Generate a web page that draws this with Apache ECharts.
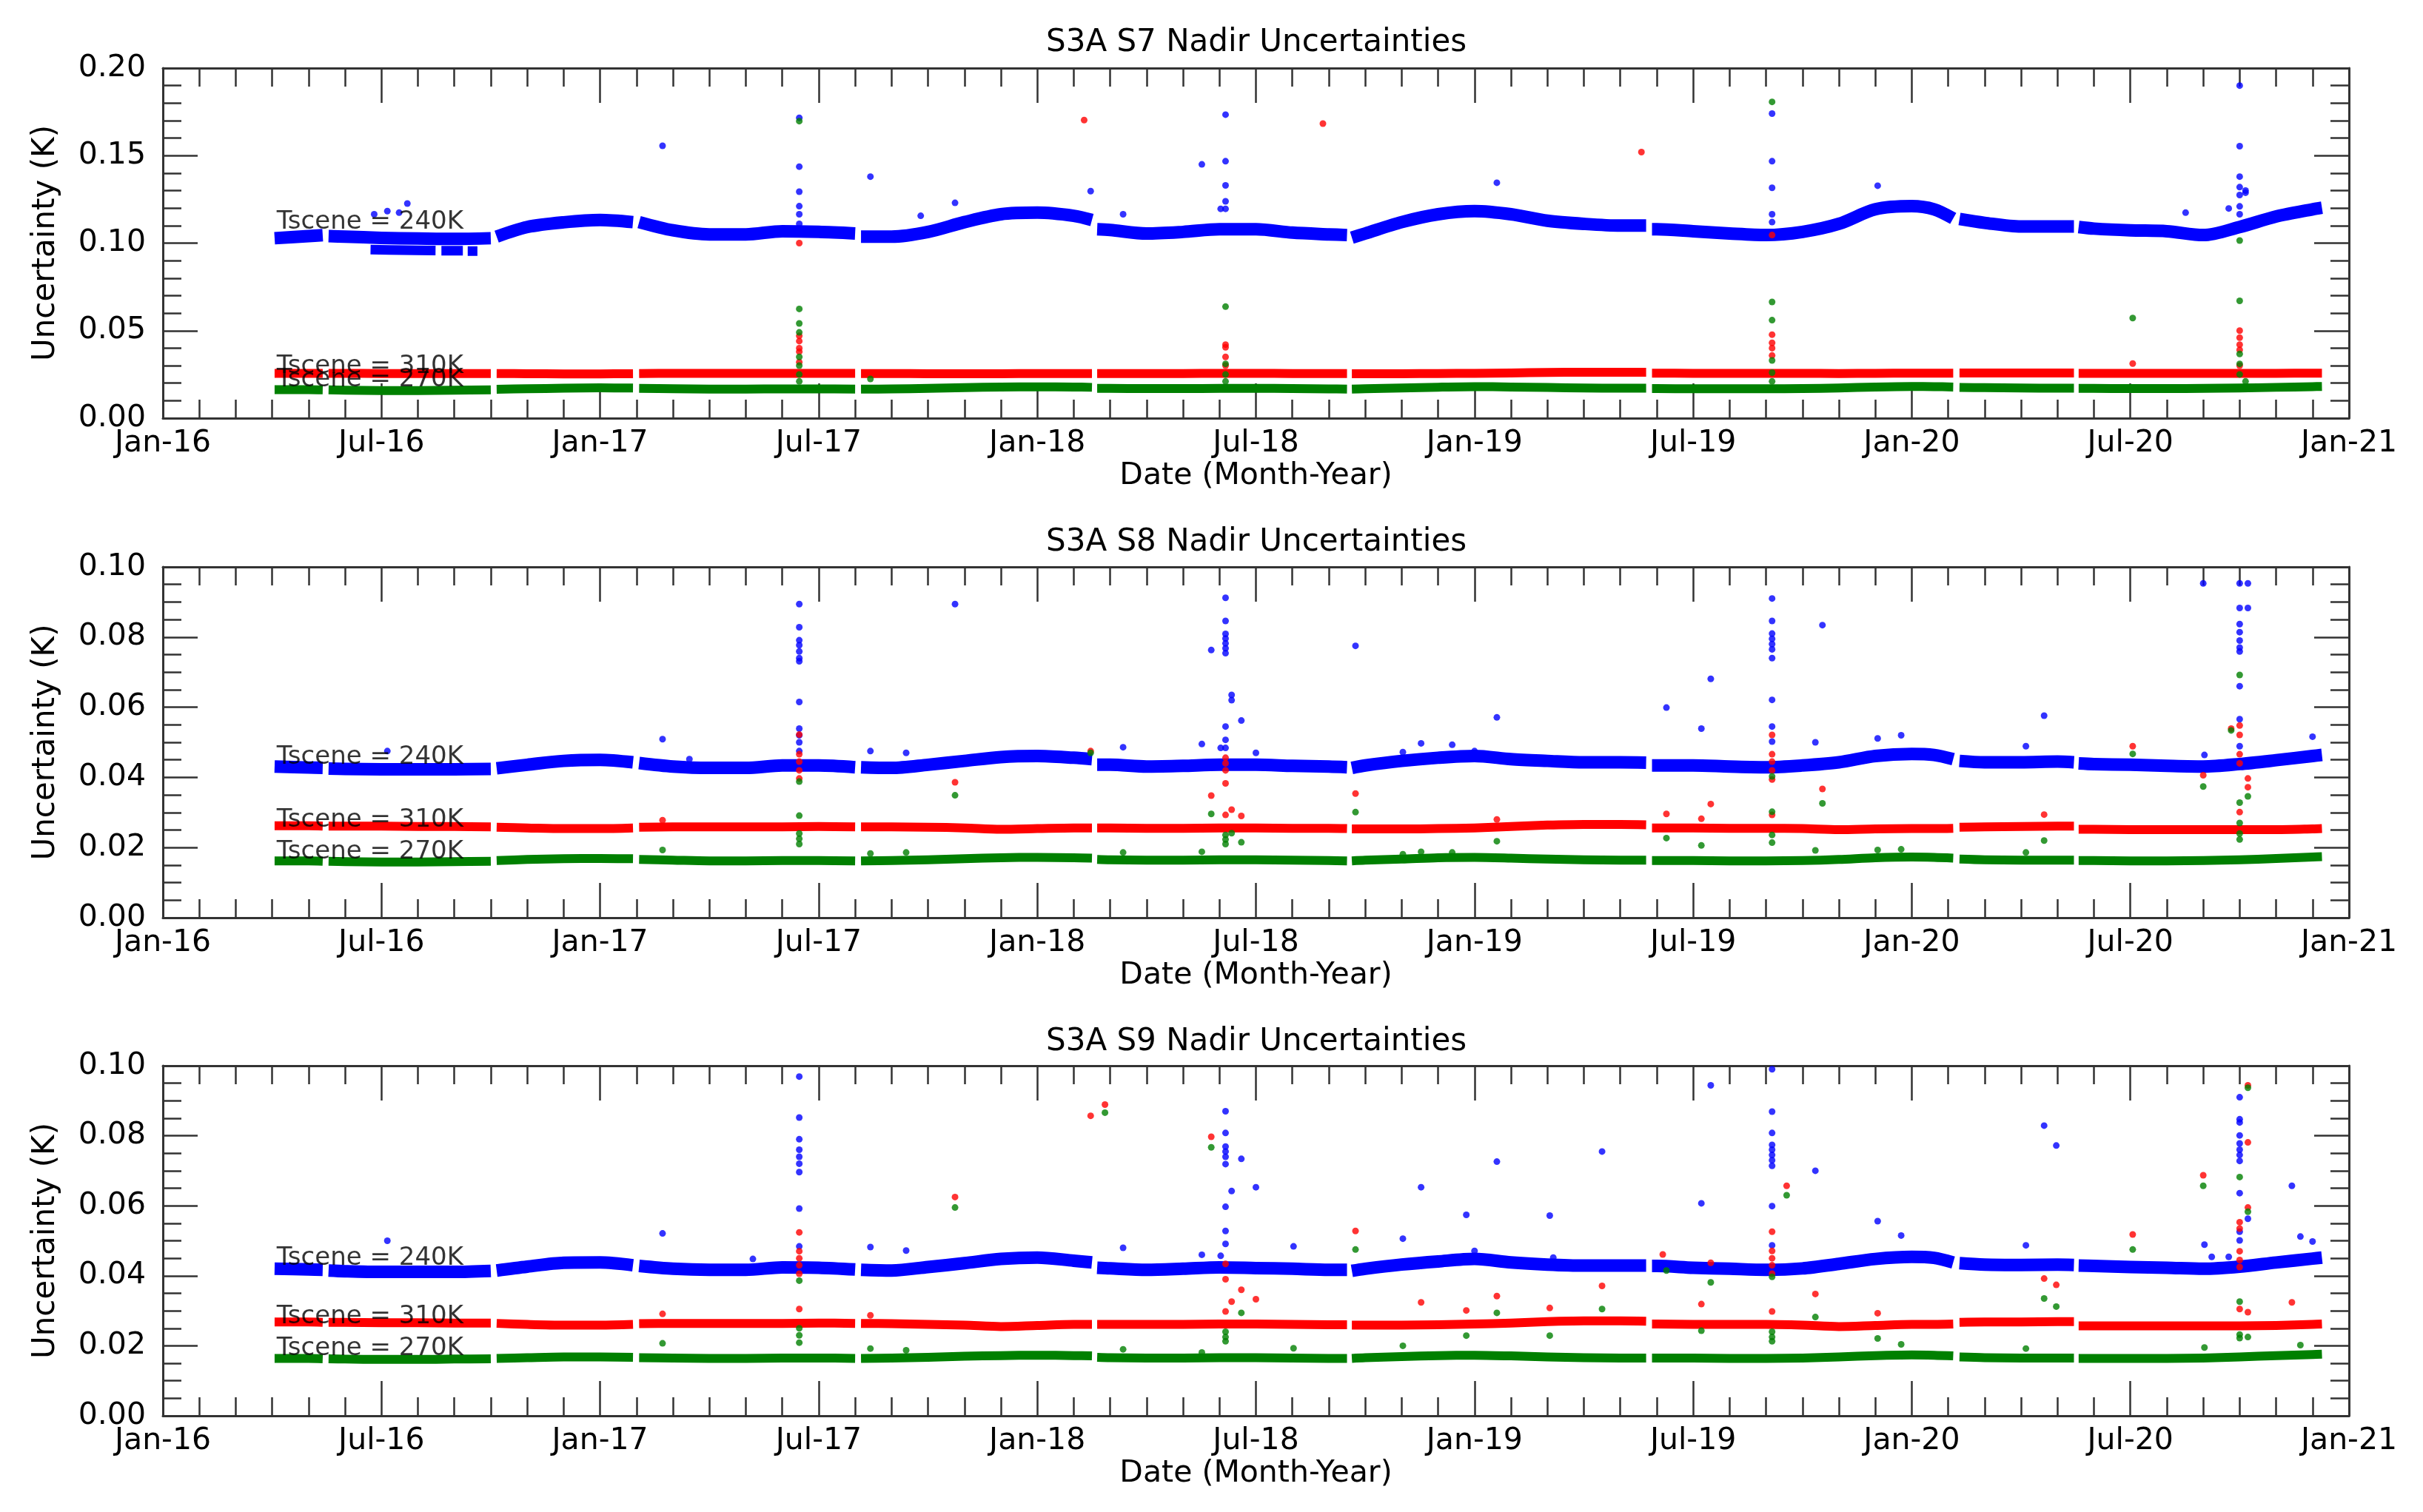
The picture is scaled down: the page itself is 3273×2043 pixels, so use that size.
<!DOCTYPE html>
<html>
<head>
<meta charset="utf-8">
<script src="https://cdn.jsdelivr.net/npm/echarts@6/dist/echarts.min.js"></script>
<style>
html,body{margin:0;padding:0;background:#fff;}
#chart{width:3273px;height:2043px;}
</style>
</head>
<body>
<div id="chart"></div>
<script>
// ---------------- DATA ----------------
const xTickLabels = ['Jan-16','Jul-16','Jan-17','Jul-17','Jan-18','Jul-18','Jan-19','Jul-19','Jan-20','Jul-20','Jan-21'];
const panelTitles = ['S3A S7 Nadir Uncertainties','S3A S8 Nadir Uncertainties','S3A S9 Nadir Uncertainties'];
const seriesLabels = ['Tscene = 240K','Tscene = 310K','Tscene = 270K'];
const labelDate = '2016-04-05';

// daily-band sample dates, one sub-array per continuous data segment
const bandDates = [
 ['2016-04-03','2016-05-01','2016-05-13'],
 ['2016-05-18','2016-06-01','2016-07-01','2016-08-01','2016-09-01','2016-10-01'],
 ['2016-10-06','2016-11-01','2016-12-01','2017-01-01','2017-01-29'],
 ['2017-02-03','2017-03-01','2017-04-01','2017-05-01','2017-06-01','2017-07-01','2017-08-01'],
 ['2017-08-06','2017-09-01','2017-10-01','2017-11-01','2017-12-01','2018-01-01','2018-02-01','2018-02-15'],
 ['2018-02-19','2018-03-01','2018-04-01','2018-05-01','2018-06-01','2018-07-01','2018-08-01','2018-09-01','2018-09-16'],
 ['2018-09-20','2018-10-01','2018-11-01','2018-12-01','2019-01-01','2019-02-01','2019-03-01','2019-04-01','2019-05-01','2019-05-23'],
 ['2019-05-28','2019-06-01','2019-07-01','2019-08-01','2019-09-01','2019-10-01','2019-11-01','2019-12-01','2020-01-01','2020-01-20','2020-02-05'],
 ['2020-02-10','2020-03-01','2020-04-01','2020-05-01','2020-05-15'],
 ['2020-05-19','2020-06-01','2020-07-01','2020-08-01','2020-09-01','2020-10-01','2020-11-01','2020-12-01','2020-12-09']
];

// ---- S7 ----
const s7Blue = [
 [0.1028,0.1040,0.1045],
 [0.1040,0.1037,0.1030,0.1026,0.1024,0.1028],
 [0.1037,0.1092,0.1119,0.1132,0.1120],
 [0.1120,0.1073,0.1050,0.1050,0.1068,0.1064,0.1055],
 [0.1037,0.1037,0.1064,0.1120,0.1165,0.1174,0.1156,0.1132],
 [0.1079,0.1075,0.1055,0.1064,0.1079,0.1079,0.1060,0.1050,0.1046],
 [0.1031,0.1055,0.1120,0.1165,0.1183,0.1165,0.1128,0.1110,0.1100,0.1100],
 [0.1079,0.1079,0.1068,0.1055,0.1046,0.1064,0.1110,0.1193,0.1211,0.1193,0.1141],
 [0.1138,0.1116,0.1095,0.1095,0.1095],
 [0.1092,0.1083,0.1073,0.1068,0.1046,0.1092,0.1152,0.1193,0.1202]
];
const s7BlueLowDates = [['2016-06-22','2016-07-20','2016-08-16'],['2016-08-21','2016-09-08'],['2016-09-12','2016-09-20']];
const s7BlueLow = [[0.0963,0.0960,0.0958],[0.0957,0.0957],[0.0955,0.0955]];
const s7Red = [
 [0.0256,0.0256,0.0256],
 [0.0256,0.0256,0.0255,0.0255,0.0255,0.0255],
 [0.0255,0.0254,0.0253,0.0253,0.0254],
 [0.0255,0.0256,0.0256,0.0256,0.0256,0.0256,0.0256],
 [0.0255,0.0255,0.0254,0.0254,0.0254,0.0255,0.0255,0.0255],
 [0.0255,0.0255,0.0255,0.0255,0.0256,0.0256,0.0255,0.0255,0.0255],
 [0.0254,0.0254,0.0254,0.0255,0.0256,0.0258,0.0261,0.0262,0.0262,0.0262],
 [0.0257,0.0257,0.0256,0.0256,0.0256,0.0256,0.0255,0.0256,0.0257,0.0257,0.0257],
 [0.0258,0.0258,0.0258,0.0258,0.0258],
 [0.0256,0.0256,0.0256,0.0256,0.0256,0.0256,0.0256,0.0257,0.0257]
];
const s7Green = [
 [0.0163,0.0163,0.0162],
 [0.0162,0.0160,0.0158,0.0158,0.0160,0.0162],
 [0.0165,0.0168,0.0171,0.0173,0.0172],
 [0.0170,0.0168,0.0166,0.0166,0.0167,0.0167,0.0166],
 [0.0166,0.0167,0.0170,0.0174,0.0178,0.0179,0.0178,0.0176],
 [0.0170,0.0170,0.0169,0.0169,0.0170,0.0170,0.0169,0.0167,0.0166],
 [0.0166,0.0168,0.0172,0.0177,0.0180,0.0178,0.0175,0.0172,0.0171,0.0171],
 [0.0169,0.0169,0.0168,0.0168,0.0168,0.0169,0.0172,0.0178,0.0181,0.0180,0.0178],
 [0.0176,0.0174,0.0172,0.0171,0.0171],
 [0.0170,0.0170,0.0169,0.0169,0.0170,0.0172,0.0176,0.0180,0.0181]
];
const s7BlueOut = [
 ['2016-06-25',0.1165],['2016-07-06',0.1183],['2016-07-16',0.1174],['2016-07-23',0.1226],
 ['2017-02-21',0.1556],
 ['2017-06-15',0.1716],['2017-06-15',0.1437],['2017-06-15',0.1294],['2017-06-15',0.1211],['2017-06-15',0.1165],['2017-06-15',0.1110],
 ['2017-08-14',0.1380],['2017-09-25',0.1156],['2017-10-24',0.1230],
 ['2018-02-14',0.1297],['2018-03-12',0.1165],['2018-05-17',0.1450],['2018-06-02',0.1196],
 ['2018-06-06',0.1734],['2018-06-06',0.1468],['2018-06-06',0.1330],['2018-06-06',0.1239],['2018-06-06',0.1196],
 ['2019-01-20',0.1345],
 ['2019-09-06',0.1740],['2019-09-06',0.1468],['2019-09-06',0.1316],['2019-09-06',0.1165],['2019-09-06',0.1120],
 ['2019-12-03',0.1328],['2020-08-17',0.1174],['2020-09-22',0.1198],
 ['2020-10-01',0.1900],['2020-10-01',0.1554],['2020-10-01',0.1380],['2020-10-01',0.1320],['2020-10-01',0.1275],['2020-10-01',0.1210],['2020-10-01',0.1165],
 ['2020-10-06',0.1300],['2020-10-06',0.1288]
];
const s7RedOut = [
 ['2017-06-15',0.1000],['2017-06-15',0.0470],['2017-06-15',0.0440],['2017-06-15',0.0400],['2017-06-15',0.0380],['2017-06-15',0.0320],
 ['2018-02-09',0.1703],
 ['2018-06-06',0.0420],['2018-06-06',0.0405],['2018-06-06',0.0350],['2018-06-06',0.0300],
 ['2018-08-27',0.1683],['2019-05-19',0.1520],
 ['2019-09-06',0.1046],['2019-09-06',0.0477],['2019-09-06',0.0430],['2019-09-06',0.0400],['2019-09-06',0.0358],
 ['2020-07-03',0.0312],
 ['2020-10-01',0.0500],['2020-10-01',0.0460],['2020-10-01',0.0420],['2020-10-01',0.0390],['2020-10-01',0.0300]
];
const s7GreenOut = [
 ['2017-06-15',0.1697],['2017-06-15',0.0624],['2017-06-15',0.0541],['2017-06-15',0.0490],['2017-06-15',0.0350],['2017-06-15',0.0300],['2017-06-15',0.0250],['2017-06-15',0.0210],
 ['2017-08-14',0.0224],
 ['2018-06-06',0.0637],['2018-06-06',0.0310],['2018-06-06',0.0250],['2018-06-06',0.0210],
 ['2019-09-06',0.1807],['2019-09-06',0.0664],['2019-09-06',0.0560],['2019-09-06',0.0330],['2019-09-06',0.0260],['2019-09-06',0.0210],
 ['2020-07-03',0.0572],
 ['2020-10-01',0.1015],['2020-10-01',0.0670],['2020-10-01',0.0367],['2020-10-01',0.0310],['2020-10-01',0.0250],['2020-10-06',0.0210]
];
const s7LabelVals = [0.1074,0.0249,0.0173];

// ---- S8 ----
const s8Blue = [
 [0.0431,0.0428,0.0427],
 [0.0425,0.0424,0.0423,0.0423,0.0423,0.0424],
 [0.0426,0.0436,0.0447,0.0450,0.0443],
 [0.0441,0.0431,0.0427,0.0427,0.0434,0.0434,0.0429],
 [0.0429,0.0427,0.0436,0.0447,0.0458,0.0461,0.0456,0.0452],
 [0.0436,0.0436,0.0431,0.0433,0.0436,0.0436,0.0433,0.0431,0.0429],
 [0.0427,0.0434,0.0447,0.0456,0.0461,0.0452,0.0447,0.0443,0.0443,0.0442],
 [0.0434,0.0434,0.0434,0.0431,0.0429,0.0434,0.0443,0.0461,0.0467,0.0464,0.0452],
 [0.0447,0.0443,0.0443,0.0445,0.0443],
 [0.0440,0.0438,0.0436,0.0433,0.0431,0.0438,0.0449,0.0461,0.0464]
];
const s8Red = [
 [0.0262,0.0262,0.0261],
 [0.0261,0.0261,0.0261,0.0260,0.0260,0.0259],
 [0.0258,0.0256,0.0254,0.0254,0.0256],
 [0.0258,0.0259,0.0259,0.0259,0.0259,0.0260,0.0259],
 [0.0259,0.0259,0.0258,0.0256,0.0252,0.0254,0.0256,0.0256],
 [0.0256,0.0256,0.0255,0.0255,0.0256,0.0256,0.0255,0.0255,0.0254],
 [0.0253,0.0253,0.0253,0.0254,0.0256,0.0260,0.0264,0.0266,0.0266,0.0265],
 [0.0256,0.0256,0.0256,0.0255,0.0255,0.0254,0.0251,0.0253,0.0254,0.0254,0.0255],
 [0.0258,0.0259,0.0260,0.0261,0.0261],
 [0.0252,0.0252,0.0251,0.0251,0.0251,0.0251,0.0251,0.0253,0.0254]
];
const s8Green = [
 [0.0162,0.0162,0.0161],
 [0.0161,0.0160,0.0159,0.0159,0.0160,0.0161],
 [0.0163,0.0166,0.0168,0.0169,0.0168],
 [0.0166,0.0164,0.0162,0.0162,0.0163,0.0163,0.0162],
 [0.0162,0.0163,0.0165,0.0168,0.0171,0.0172,0.0171,0.0170],
 [0.0166,0.0165,0.0164,0.0164,0.0165,0.0165,0.0164,0.0163,0.0162],
 [0.0162,0.0164,0.0167,0.0171,0.0172,0.0170,0.0167,0.0165,0.0164,0.0164],
 [0.0163,0.0163,0.0163,0.0162,0.0162,0.0163,0.0166,0.0171,0.0173,0.0172,0.0170],
 [0.0167,0.0165,0.0164,0.0164,0.0164],
 [0.0163,0.0163,0.0162,0.0162,0.0163,0.0165,0.0169,0.0173,0.0174]
];
const s8BlueOut = [
 ['2016-07-06',0.0475],['2017-02-21',0.0509],['2017-03-15',0.0452],
 ['2017-06-15',0.0894],['2017-06-15',0.0828],['2017-06-15',0.0791],['2017-06-15',0.0777],['2017-06-15',0.0759],['2017-06-15',0.0740],['2017-06-15',0.0731],['2017-06-15',0.0615],['2017-06-15',0.0539],['2017-06-15',0.0520],['2017-06-15',0.0500],['2017-06-15',0.0475],
 ['2017-08-14',0.0475],['2017-09-13',0.0470],['2017-10-24',0.0894],
 ['2018-03-12',0.0486],['2018-05-17',0.0495],['2018-05-25',0.0763],['2018-06-02',0.0484],
 ['2018-06-06',0.0912],['2018-06-06',0.0846],['2018-06-06',0.0809],['2018-06-06',0.0796],['2018-06-06',0.0782],['2018-06-06',0.0768],['2018-06-06',0.0754],['2018-06-06',0.0545],['2018-06-06',0.0507],['2018-06-06',0.0484],
 ['2018-06-11',0.0620],['2018-06-11',0.0635],['2018-06-19',0.0562],['2018-07-01',0.0470],
 ['2018-09-23',0.0775],['2018-11-02',0.0472],['2018-11-17',0.0497],['2018-12-13',0.0493],['2019-01-01',0.0475],['2019-01-20',0.0571],
 ['2019-06-09',0.0599],['2019-07-08',0.0539],['2019-07-16',0.0681],
 ['2019-09-06',0.0910],['2019-09-06',0.0846],['2019-09-06',0.0810],['2019-09-06',0.0795],['2019-09-06',0.0780],['2019-09-06',0.0765],['2019-09-06',0.0740],['2019-09-06',0.0621],['2019-09-06',0.0545],['2019-09-06',0.0502],
 ['2019-10-12',0.0500],['2019-10-18',0.0834],['2019-12-03',0.0511],['2019-12-23',0.0520],
 ['2020-04-05',0.0489],['2020-04-20',0.0576],
 ['2020-09-01',0.0953],['2020-09-02',0.0464],
 ['2020-10-01',0.0953],['2020-10-01',0.0883],['2020-10-01',0.0837],['2020-10-01',0.0814],['2020-10-01',0.0790],['2020-10-01',0.0770],['2020-10-01',0.0759],['2020-10-01',0.0660],['2020-10-01',0.0566],['2020-10-01',0.0489],
 ['2020-10-08',0.0953],['2020-10-08',0.0883],
 ['2020-12-01',0.0516]
];
const s8RedOut = [
 ['2017-02-21',0.0278],
 ['2017-06-15',0.0522],['2017-06-15',0.0466],['2017-06-15',0.0445],['2017-06-15',0.0420],['2017-06-15',0.0397],
 ['2017-10-24',0.0386],['2018-02-14',0.0475],['2018-05-25',0.0348],
 ['2018-06-06',0.0456],['2018-06-06',0.0440],['2018-06-06',0.0420],['2018-06-06',0.0383],['2018-06-06',0.0293],
 ['2018-06-11',0.0308],['2018-06-19',0.0290],['2018-09-23',0.0354],['2019-01-20',0.0280],
 ['2019-06-09',0.0296],['2019-07-08',0.0282],['2019-07-16',0.0324],
 ['2019-09-06',0.0521],['2019-09-06',0.0466],['2019-09-06',0.0445],['2019-09-06',0.0420],['2019-09-06',0.0394],['2019-09-06',0.0293],
 ['2019-10-18',0.0367],['2020-04-20',0.0294],['2020-07-03',0.0489],['2020-09-01',0.0406],['2020-09-24',0.0539],
 ['2020-10-01',0.0548],['2020-10-01',0.0521],['2020-10-01',0.0466],['2020-10-01',0.0440],['2020-10-01',0.0301],
 ['2020-10-08',0.0397],['2020-10-08',0.0372]
];
const s8GreenOut = [
 ['2017-02-21',0.0193],
 ['2017-06-15',0.0388],['2017-06-15',0.0291],['2017-06-15',0.0240],['2017-06-15',0.0225],['2017-06-15',0.0210],
 ['2017-08-14',0.0183],['2017-09-13',0.0186],['2017-10-24',0.0349],['2018-02-14',0.0470],['2018-03-12',0.0186],['2018-05-17',0.0188],['2018-05-25',0.0296],
 ['2018-06-06',0.0236],['2018-06-06',0.0223],['2018-06-06',0.0210],
 ['2018-06-11',0.0241],['2018-06-19',0.0215],['2018-09-23',0.0301],['2018-11-02',0.0181],['2018-11-17',0.0188],['2018-12-13',0.0186],['2019-01-20',0.0218],
 ['2019-06-09',0.0227],['2019-07-08',0.0206],
 ['2019-09-06',0.0403],['2019-09-06',0.0302],['2019-09-06',0.0236],['2019-09-06',0.0214],
 ['2019-10-12',0.0192],['2019-10-18',0.0326],['2019-12-03',0.0193],['2019-12-23',0.0195],['2020-04-05',0.0186],['2020-04-20',0.0220],
 ['2020-07-03',0.0467],['2020-09-01',0.0374],['2020-09-24',0.0534],
 ['2020-10-01',0.0692],['2020-10-01',0.0328],['2020-10-01',0.0270],['2020-10-01',0.0240],['2020-10-01',0.0223],
 ['2020-10-08',0.0346]
];
const s8LabelVals = [0.0435,0.0255,0.0165];

// ---- S9 ----
const s9Blue = [
 [0.0420,0.0418,0.0417],
 [0.0415,0.0413,0.0411,0.0411,0.0411,0.0414],
 [0.0415,0.0426,0.0437,0.0438,0.0430],
 [0.0428,0.0420,0.0417,0.0417,0.0424,0.0423,0.0418],
 [0.0417,0.0415,0.0425,0.0436,0.0448,0.0452,0.0443,0.0438],
 [0.0423,0.0421,0.0417,0.0420,0.0424,0.0422,0.0420,0.0417,0.0417],
 [0.0414,0.0420,0.0432,0.0441,0.0448,0.0438,0.0432,0.0429,0.0429,0.0429],
 [0.0428,0.0428,0.0423,0.0420,0.0417,0.0421,0.0434,0.0448,0.0454,0.0451,0.0438],
 [0.0436,0.0432,0.0431,0.0432,0.0431],
 [0.0429,0.0428,0.0425,0.0423,0.0420,0.0426,0.0438,0.0449,0.0452]
];
const s9Red = [
 [0.0268,0.0268,0.0267],
 [0.0267,0.0267,0.0266,0.0266,0.0265,0.0265],
 [0.0264,0.0261,0.0259,0.0259,0.0261],
 [0.0263,0.0264,0.0264,0.0264,0.0264,0.0265,0.0264],
 [0.0264,0.0263,0.0261,0.0259,0.0255,0.0258,0.0261,0.0261],
 [0.0261,0.0261,0.0261,0.0261,0.0262,0.0262,0.0261,0.0260,0.0260],
 [0.0259,0.0259,0.0259,0.0260,0.0262,0.0265,0.0269,0.0271,0.0271,0.0270],
 [0.0262,0.0262,0.0261,0.0261,0.0261,0.0259,0.0255,0.0258,0.0261,0.0261,0.0262],
 [0.0267,0.0268,0.0268,0.0269,0.0269],
 [0.0257,0.0257,0.0257,0.0257,0.0257,0.0257,0.0258,0.0261,0.0262]
];
const s9Green = [
 [0.0164,0.0164,0.0163],
 [0.0163,0.0162,0.0161,0.0161,0.0162,0.0163],
 [0.0164,0.0166,0.0168,0.0168,0.0167],
 [0.0166,0.0165,0.0164,0.0164,0.0165,0.0165,0.0164],
 [0.0164,0.0165,0.0167,0.0170,0.0172,0.0173,0.0172,0.0171],
 [0.0167,0.0166,0.0165,0.0165,0.0166,0.0166,0.0165,0.0164,0.0164],
 [0.0164,0.0166,0.0169,0.0172,0.0173,0.0171,0.0168,0.0166,0.0165,0.0165],
 [0.0165,0.0165,0.0165,0.0164,0.0164,0.0165,0.0168,0.0172,0.0174,0.0173,0.0171],
 [0.0168,0.0166,0.0165,0.0165,0.0165],
 [0.0164,0.0164,0.0164,0.0164,0.0165,0.0168,0.0172,0.0175,0.0176]
];
const s9BlueOut = [
 ['2016-07-06',0.0500],['2017-02-21',0.0521],['2017-05-07',0.0448],
 ['2017-06-15',0.0969],['2017-06-15',0.0852],['2017-06-15',0.0790],['2017-06-15',0.0760],['2017-06-15',0.0740],['2017-06-15',0.0720],['2017-06-15',0.0696],['2017-06-15',0.0592],['2017-06-15',0.0484],
 ['2017-08-14',0.0482],['2017-09-13',0.0472],['2018-03-12',0.0480],['2018-05-17',0.0460],['2018-06-02',0.0457],
 ['2018-06-06',0.0870],['2018-06-06',0.0808],['2018-06-06',0.0769],['2018-06-06',0.0755],['2018-06-06',0.0740],['2018-06-06',0.0719],['2018-06-06',0.0597],['2018-06-06',0.0528],['2018-06-06',0.0491],
 ['2018-06-11',0.0642],['2018-06-19',0.0734],['2018-07-01',0.0653],['2018-08-02',0.0484],
 ['2018-11-02',0.0506],['2018-11-17',0.0653],['2018-12-25',0.0574],['2019-01-01',0.0471],['2019-01-20',0.0726],['2019-03-03',0.0572],['2019-03-06',0.0452],['2019-04-16',0.0755],
 ['2019-07-08',0.0607],['2019-07-16',0.0944],
 ['2019-09-06',0.0990],['2019-09-06',0.0869],['2019-09-06',0.0808],['2019-09-06',0.0774],['2019-09-06',0.0760],['2019-09-06',0.0745],['2019-09-06',0.0730],['2019-09-06',0.0714],['2019-09-06',0.0599],['2019-09-06',0.0487],
 ['2019-10-12',0.0700],['2019-12-03',0.0556],['2019-12-23',0.0515],['2020-04-05',0.0487],['2020-04-20',0.0829],['2020-04-30',0.0772],
 ['2020-09-02',0.0489],['2020-09-08',0.0454],['2020-09-22',0.0454],
 ['2020-10-01',0.0910],['2020-10-01',0.0847],['2020-10-01',0.0838],['2020-10-01',0.0801],['2020-10-01',0.0778],['2020-10-01',0.0760],['2020-10-01',0.0745],['2020-10-01',0.0728],['2020-10-01',0.0636],['2020-10-01',0.0526],['2020-10-01',0.0501],
 ['2020-10-08',0.0563],
 ['2020-11-14',0.0657],['2020-11-21',0.0512],['2020-12-01',0.0498]
];
const s9RedOut = [
 ['2017-02-21',0.0291],
 ['2017-06-15',0.0524],['2017-06-15',0.0470],['2017-06-15',0.0450],['2017-06-15',0.0430],['2017-06-15',0.0406],['2017-06-15',0.0305],
 ['2017-08-14',0.0287],['2017-10-24',0.0625],['2018-02-14',0.0857],['2018-02-25',0.0889],['2018-05-25',0.0797],
 ['2018-06-06',0.0434],['2018-06-06',0.0390],['2018-06-06',0.0298],
 ['2018-06-11',0.0326],['2018-06-19',0.0360],['2018-07-01',0.0333],['2018-09-23',0.0528],['2018-11-17',0.0324],['2018-12-25',0.0301],['2019-01-20',0.0342],['2019-03-03',0.0308],['2019-04-16',0.0371],
 ['2019-06-06',0.0461],['2019-07-08',0.0319],['2019-07-16',0.0437],
 ['2019-09-06',0.0526],['2019-09-06',0.0471],['2019-09-06',0.0450],['2019-09-06',0.0430],['2019-09-06',0.0406],['2019-09-06',0.0298],
 ['2019-09-18',0.0657],['2019-10-12',0.0348],['2019-12-03',0.0293],['2020-04-20',0.0392],['2020-04-30',0.0374],['2020-07-03',0.0518],['2020-09-01',0.0687],
 ['2020-10-01',0.0553],['2020-10-01',0.0535],['2020-10-01',0.0470],['2020-10-01',0.0445],['2020-10-01',0.0425],['2020-10-01',0.0305],
 ['2020-10-08',0.0944],['2020-10-08',0.0781],['2020-10-08',0.0595],['2020-10-08',0.0296],
 ['2020-11-14',0.0324]
];
const s9GreenOut = [
 ['2017-02-21',0.0207],
 ['2017-06-15',0.0386],['2017-06-15',0.0250],['2017-06-15',0.0230],['2017-06-15',0.0209],
 ['2017-08-14',0.0192],['2017-09-13',0.0187],['2017-10-24',0.0595],['2018-02-25',0.0866],['2018-03-12',0.0190],['2018-05-17',0.0181],['2018-05-25',0.0767],
 ['2018-06-06',0.0240],['2018-06-06',0.0225],['2018-06-06',0.0213],
 ['2018-06-19',0.0294],['2018-08-02',0.0193],['2018-09-23',0.0475],['2018-11-02',0.0200],['2018-12-25',0.0229],['2019-01-20',0.0294],['2019-03-03',0.0229],['2019-04-16',0.0305],
 ['2019-06-09',0.0415],['2019-07-08',0.0243],['2019-07-16',0.0381],
 ['2019-09-06',0.0397],['2019-09-06',0.0240],['2019-09-06',0.0225],['2019-09-06',0.0213],
 ['2019-09-18',0.0630],['2019-10-12',0.0282],['2019-12-03',0.0221],['2019-12-23',0.0204],['2020-04-05',0.0192],['2020-04-20',0.0335],['2020-04-30',0.0312],['2020-07-03',0.0475],['2020-09-01',0.0657],['2020-09-02',0.0195],
 ['2020-10-01',0.0682],['2020-10-01',0.0326],['2020-10-01',0.0232],['2020-10-01',0.0222],
 ['2020-10-08',0.0937],['2020-10-08',0.0583],['2020-10-08',0.0225],
 ['2020-11-21',0.0202]
];
const s9LabelVals = [0.0427,0.0260,0.0169];

// ---------------- BUILD ----------------
function toMonths(s) {
  const y = +s.slice(0, 4), m = +s.slice(5, 7), d = +s.slice(8, 10);
  const dim = new Date(Date.UTC(y, m, 0)).getUTCDate();
  return (y - 2016) * 12 + (m - 1) + (d - 1) / dim;
}

const COL = { blue: '#0000ff', red: '#ff0000', green: '#008000' };
const FONT = 'DejaVu Sans';
const AXC = '#333333';

const panels = [
  { blue: s7Blue, red: s7Red, green: s7Green, bo: s7BlueOut, ro: s7RedOut, go: s7GreenOut, lab: s7LabelVals, yMax: 0.2, yInt: 0.05, yMinor: 5 },
  { blue: s8Blue, red: s8Red, green: s8Green, bo: s8BlueOut, ro: s8RedOut, go: s8GreenOut, lab: s8LabelVals, yMax: 0.1, yInt: 0.02, yMinor: 4 },
  { blue: s9Blue, red: s9Red, green: s9Green, bo: s9BlueOut, ro: s9RedOut, go: s9GreenOut, lab: s9LabelVals, yMax: 0.1, yInt: 0.02, yMinor: 4 }
];

const gridTops = [92, 766, 1440];
const gridHeights = [473, 474, 473];
const titleTops = [37, 712, 1387];

function bandSeries(segDates, segVals, gi, color, width, z) {
  const data = [];
  segDates.forEach((seg, si) => {
    if (si > 0) data.push(['-', '-']);
    seg.forEach((d, j) => data.push([toMonths(d), segVals[si][j]]));
  });
  return {
    type: 'line', xAxisIndex: 2 * gi, yAxisIndex: 2 * gi, data,
    symbol: 'none', showSymbol: false, smooth: 0.3, connectNulls: false,
    lineStyle: { color, width, cap: 'butt', join: 'round' },
    z, silent: true, animation: false
  };
}
function outSeries(pts, gi, color, z) {
  return {
    type: 'scatter', xAxisIndex: 2 * gi, yAxisIndex: 2 * gi,
    data: pts.map(p => [toMonths(p[0]), p[1]]),
    symbol: 'circle', symbolSize: 9, itemStyle: { color },
    z, silent: true, animation: false
  };
}

const tickStyle = { color: AXC, width: 2.5 };
const xAxes = [], yAxes = [], series = [], grids = [], titles = [];

panels.forEach((p, gi) => {
  grids.push({ left: 220, right: 100, top: gridTops[gi], height: gridHeights[gi], containLabel: false, outerBoundsMode: 'none' });
  titles.push({
    text: panelTitles[gi], left: 1413, top: titleTops[gi], padding: 0,
    textStyle: { fontFamily: FONT, fontSize: 42, fontWeight: 'normal', color: '#000' }
  });
  ['bottom', 'top'].forEach(pos => {
    xAxes.push({
      type: 'value', gridIndex: gi, position: pos, min: 0, max: 60, interval: 6,
      axisLine: { show: true, onZero: false, lineStyle: { color: AXC, width: 3 } },
      axisTick: { show: true, inside: true, length: 47, lineStyle: tickStyle },
      minorTick: { show: true, splitNumber: 6, length: 25, lineStyle: tickStyle },
      splitLine: { show: false }, minorSplitLine: { show: false },
      axisLabel: {
        show: pos === 'bottom', margin: 14, fontFamily: FONT, fontSize: 41, color: '#000',
        showMinLabel: true, showMaxLabel: true,
        formatter: v => xTickLabels[Math.round(v / 6)]
      },
      name: pos === 'bottom' ? 'Date (Month-Year)' : '',
      nameLocation: 'middle', nameGap: 58,
      nameTextStyle: { fontFamily: FONT, fontSize: 41, color: '#000' }
    });
  });
  ['left', 'right'].forEach(pos => {
    yAxes.push({
      type: 'value', gridIndex: gi, position: pos, min: 0, max: p.yMax, interval: p.yInt,
      axisLine: { show: true, onZero: false, lineStyle: { color: AXC, width: 3 } },
      axisTick: { show: true, inside: true, length: 47, lineStyle: tickStyle },
      minorTick: { show: true, splitNumber: p.yMinor, length: 25, lineStyle: tickStyle },
      splitLine: { show: false }, minorSplitLine: { show: false },
      axisLabel: {
        show: pos === 'left', margin: 23, fontFamily: FONT, fontSize: 41, color: '#000',
        formatter: v => v.toFixed(2)
      },
      name: pos === 'left' ? 'Uncertainty (K)' : '',
      nameLocation: 'middle', nameGap: 137,
      nameTextStyle: { fontFamily: FONT, fontSize: 42, color: '#000' }
    });
  });

  series.push(bandSeries(bandDates, p.blue, gi, COL.blue, 17, 2));
  if (gi === 0) series.push(bandSeries(s7BlueLowDates, s7BlueLow, gi, COL.blue, 13, 2));
  series.push(bandSeries(bandDates, p.red, gi, COL.red, 12, 3));
  series.push(bandSeries(bandDates, p.green, gi, COL.green, 12, 4));
  series.push(outSeries(p.bo, gi, COL.blue, 5));
  series.push(outSeries(p.ro, gi, COL.red, 6));
  series.push(outSeries(p.go, gi, COL.green, 7));
  series.push({
    type: 'scatter', xAxisIndex: 2 * gi, yAxisIndex: 2 * gi,
    data: p.lab.map((v, k) => [toMonths(labelDate), v, seriesLabels[k]]),
    symbol: 'circle', symbolSize: 1, itemStyle: { color: 'rgba(0,0,0,0)' },
    label: {
      show: true, formatter: q => q.data[2], position: [0, 0], align: 'left', verticalAlign: 'bottom',
      offset: [0, 7], fontFamily: FONT, fontSize: 34, color: '#000'
    },
    z: 20, silent: true, animation: false
  });
});

const chart = echarts.init(document.getElementById('chart'), null, { renderer: 'canvas', width: 3273, height: 2043 });
chart.setOption({
  animation: false,
  backgroundColor: '#ffffff',
  textStyle: { fontFamily: FONT },
  title: titles,
  grid: grids,
  xAxis: xAxes,
  yAxis: yAxes,
  series
});
</script>
</body>
</html>
